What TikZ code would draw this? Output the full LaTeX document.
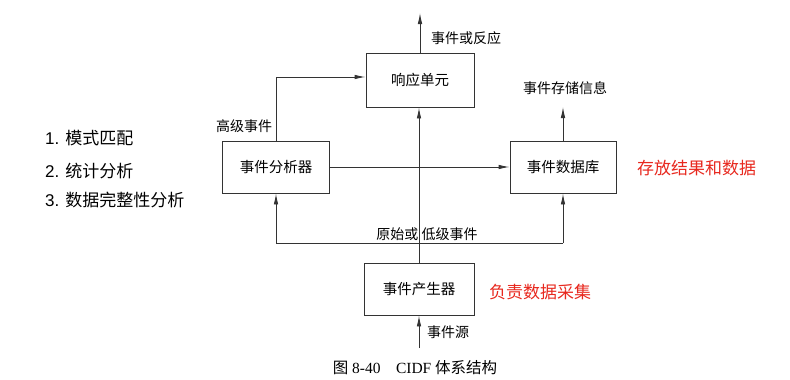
\documentclass[tikz,border=0pt]{standalone}
\usepackage{fontspec}
\setmainfont{Liberation Serif}
\newfontfamily\cjk{Noto Sans CJK SC}
\newfontfamily\lsans{Liberation Sans}
\usetikzlibrary{arrows.meta}
\definecolor{linec}{HTML}{333333}
\definecolor{redtxt}{HTML}{E8281E}
\begin{document}
\begin{tikzpicture}[x=1pt,y=-1pt,
  blk/.style={draw=linec,line width=0.9pt,minimum width=107pt,minimum height=52pt,inner sep=0pt,font=\cjk\fontsize{14.5}{16}\selectfont},
  arr/.style={draw=linec,line width=0.9pt,-{Latex[length=11pt,width=4.5pt]}},
  ln/.style={draw=linec,line width=0.9pt},
  lbl/.style={inner sep=0pt,font=\cjk\fontsize{14}{16}\selectfont},
  lst/.style={inner sep=0pt,anchor=west,font=\cjk\fontsize{17}{19}\selectfont},
  red/.style={inner sep=0pt,anchor=west,text=redtxt,font=\cjk\fontsize{17}{19}\selectfont}]
\useasboundingbox (0,0) rectangle (790,380);
\fill[white] (0,0) rectangle (790,380);
% blocks
\node[blk,minimum width=108pt,minimum height=54pt] (resp) at (420,80) {响应单元};
\node[blk] (ana) at (276,167) {事件分析器};
\node[blk,minimum width=106pt] (db) at (563,167) {事件数据库};
\node[blk,minimum width=110pt] (gen) at (419,289) {事件产生器};
% free ends
\coordinate (top) at (420,13);
\coordinate (dbt) at (563,107);
\coordinate (src) at (419,348);
\coordinate (bl) at (276,243);
\coordinate (br) at (563,243);
% connectors
\draw[arr] (resp.north) -- (top);
\draw[arr] (ana.north) |- ([yshift=3pt]resp.west);
\draw[arr] (ana.east) -- (db.west);
\draw[arr] (db.north) -- (dbt);
\draw[arr] (gen.north) -- (gen.north |- resp.south);
\draw[ln] (bl) -- (br);
\draw[arr] (bl) -- (ana.south);
\draw[arr] (br) -- (db.south);
\draw[arr] (src) -- (gen.south);
% labels
\node[lbl] (l1) at (466,38) {事件或反应};
\node[lbl] (l2) at (565,88) {事件存储信息};
\node[lbl] (l3) at (244,126) {高级事件};
\node[lbl] (l4) at (427,234) {原始或 低级事件};
\node[lbl] (l5) at (448,332) {事件源};
% caption
\node[inner sep=0pt,font=\fontsize{15.5}{17}\selectfont] (cap) at (415,368) {{\cjk 图} 8-40\quad CIDF {\cjk 体系结构}};
% list
\node[lst] (i1) at (45,138) {{\lsans 1.}\hspace{6pt}模式匹配};
\node[lst] (i2) at (45,171) {{\lsans 2.}\hspace{6pt}统计分析};
\node[lst] (i3) at (45,200) {{\lsans 3.}\hspace{6pt}数据完整性分析};
% red notes
\node[red] (r1) at (637,168) {存放结果和数据};
\node[red] (r2) at (489,292) {负责数据采集};
\end{tikzpicture}
\end{document}
